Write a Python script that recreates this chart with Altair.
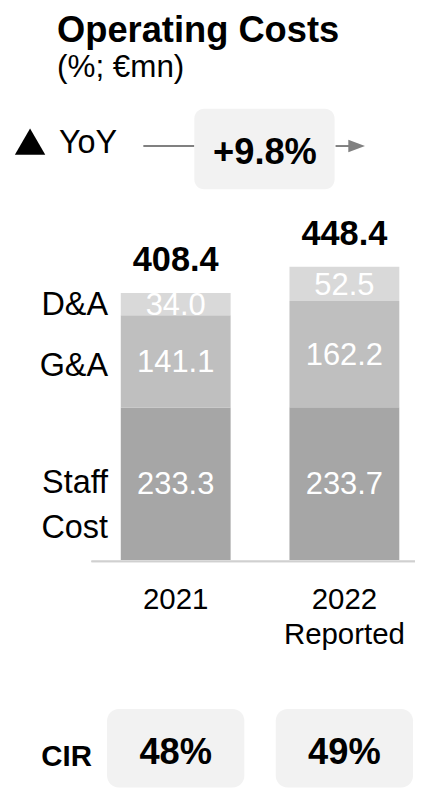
import altair as alt
import pandas as pd

# ---- data ----
years = ["2021", "2022"]
year_line2 = ["", "Reported"]
staff_cost = [233.3, 233.7]
g_and_a = [141.1, 162.2]
d_and_a = [34.0, 52.5]
totals = [408.4, 448.4]
cir_values = ["48%", "49%"]
segment_names = ["Staff Cost", "G&A", "D&A"]
segment_colors = ["#a6a6a6", "#bfbfbf", "#d9d9d9"]
yoy_label = "+9.8%"

FONT = "Liberation Sans"

# stacked table
rows = []
for i, yr in enumerate(years):
    base = 0.0
    for name, vals in zip(segment_names, [staff_cost, g_and_a, d_and_a]):
        v = vals[i]
        rows.append({"year": yr, "segment": name, "value": v,
                     "y0": base, "y1": base + v, "mid": base + v / 2,
                     "label": f"{v:.1f}"})
        base += v
seg = pd.DataFrame(rows)
tot = pd.DataFrame({"year": years, "total": totals,
                    "label": [f"{t:.1f}" for t in totals]})
xlab = pd.DataFrame({"year": years, "l2": year_line2})
cir = pd.DataFrame({"year": years, "cir": cir_values})

# category labels positioned at 2021 segment midpoints
first = seg[seg["year"] == years[0]].set_index("segment")
cat_da = pd.DataFrame({"name": ["D&A"], "mid": [first.loc["D&A", "mid"]]})
cat_ga = pd.DataFrame({"name": ["G&A"], "mid": [first.loc["G&A", "mid"]]})
cat_staff = pd.DataFrame({"name": ["Staff"], "mid": [first.loc["Staff Cost", "mid"]]})
cat_cost = pd.DataFrame({"name": ["Cost"], "mid": [first.loc["Staff Cost", "mid"]]})

xscale = alt.Scale(domain=years, range=[85, 429], paddingInner=0.349, paddingOuter=0.1745)
yscale = alt.Scale(domain=[-349.6, 832.7], nice=False, zero=False)
X = alt.X("year:N", scale=xscale, axis=None)

bars = alt.Chart(seg).mark_bar(width=112).encode(
    x=X,
    y=alt.Y("y0:Q", scale=yscale, axis=None),
    y2="y1:Q",
    color=alt.Color("segment:N", scale=alt.Scale(domain=segment_names, range=segment_colors), legend=None),
)
seg_text = alt.Chart(seg).mark_text(font=FONT, fontSize=31.5, color="white", baseline="middle", dy=2).encode(
    x=X, y=alt.Y("mid:Q", scale=yscale, axis=None), text="label:N")
tot_text = alt.Chart(tot).mark_text(font=FONT, fontSize=35, fontWeight="bold", color="black",
                                     baseline="alphabetic", dy=-22).encode(
    x=X, y=alt.Y("total:Q", scale=yscale, axis=None), text="label:N")

baseline_rule = alt.Chart(tot).mark_rule(color="#d0d0d0", strokeWidth=2).encode(
    x=alt.value(85), x2=alt.value(415), y=alt.value(556.5))

x1_text = alt.Chart(xlab).mark_text(font=FONT, fontSize=30, baseline="alphabetic").encode(
    x=X, y=alt.value(605), text="year:N")
x2_text = alt.Chart(xlab).mark_text(font=FONT, fontSize=30, baseline="alphabetic").encode(
    x=X, y=alt.value(641), text="l2:N")


def cat_layer(df, dy, baseline):
    return alt.Chart(df).mark_text(font=FONT, fontSize=33, align="right", baseline=baseline, dy=dy).encode(
        x=alt.value(102), y=alt.Y("mid:Q", scale=yscale, axis=None), text="name:N")


cats = [cat_layer(cat_da, 1, "middle"), cat_layer(cat_ga, 5, "middle"),
        cat_layer(cat_staff, 10, "alphabetic"), cat_layer(cat_cost, 55, "alphabetic")]

# header
hdr = pd.DataFrame({"t": ["Operating Costs"], "s": ["(%; €mn)"], "yoy": [yoy_label]})
title = alt.Chart(hdr).mark_text(font=FONT, fontSize=37, fontWeight="bold", align="left",
                                 baseline="alphabetic").encode(x=alt.value(50), y=alt.value(27), text="t:N")
subtitle = alt.Chart(hdr).mark_text(font=FONT, fontSize=32, align="left",
                                    baseline="alphabetic").encode(x=alt.value(50), y=alt.value(63), text="s:N")
tri = alt.Chart(hdr).mark_point(shape="triangle-up", filled=True, color="black", size=961, opacity=1).encode(
    x=alt.value(22.5), y=alt.value(128.5))
yoy_word = alt.Chart(hdr).mark_text(font=FONT, fontSize=33, align="left", baseline="alphabetic").encode(
    x=alt.value(52), y=alt.value(140), text=alt.value("YoY"))
line_l = alt.Chart(hdr).mark_rule(color="#808080", strokeWidth=2).encode(
    x=alt.value(138), x2=alt.value(190), y=alt.value(133))
box = alt.Chart(hdr).mark_rect(color="#f2f2f2", cornerRadius=10).encode(
    x=alt.value(190), x2=alt.value(333), y=alt.value(95), y2=alt.value(177))
yoy_val = alt.Chart(hdr).mark_text(font=FONT, fontSize=37, fontWeight="bold", baseline="alphabetic").encode(
    x=alt.value(262), y=alt.value(151), text="yoy:N")
line_r = alt.Chart(hdr).mark_rule(color="#808080", strokeWidth=2).encode(
    x=alt.value(334), x2=alt.value(350), y=alt.value(133))
head = alt.Chart(hdr).mark_point(shape="M-1,-0.76L1,0L-1,0.76Z", filled=True, color="#808080",
                                 size=289, opacity=1).encode(x=alt.value(355.5), y=alt.value(133))

# CIR row
cir_box = alt.Chart(cir).mark_bar(width=140, color="#f2f2f2", cornerRadius=12).encode(
    x=X, y=alt.value(707), y2=alt.value(787))
cir_val = alt.Chart(cir).mark_text(font=FONT, fontSize=37, fontWeight="bold", baseline="alphabetic").encode(
    x=X, y=alt.value(763), text="cir:N")
cir_word = alt.Chart(hdr).mark_text(font=FONT, fontSize=30, fontWeight="bold", align="left",
                                    baseline="alphabetic").encode(x=alt.value(34), y=alt.value(765),
                                                                  text=alt.value("CIR"))

chart = alt.layer(
    bars, seg_text, tot_text, baseline_rule, x1_text, x2_text, *cats,
    title, subtitle, tri, yoy_word, line_l, box, yoy_val, line_r, head,
    cir_box, cir_val, cir_word,
).properties(
    width=415, height=788, padding=0,
    autosize=alt.AutoSizeParams(type="none"),
).configure_view(stroke=None)

chart.save("out.html", embed_options={"renderer": "svg", "actions": False})
